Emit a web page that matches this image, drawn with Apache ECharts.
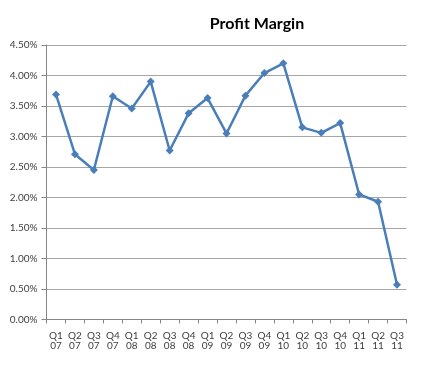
<!DOCTYPE html>
<html><head><meta charset="utf-8">
<script src="https://cdn.jsdelivr.net/npm/echarts@6/dist/echarts.min.js"></script>
<style>html,body{margin:0;padding:0;background:#fff}#c{width:437px;height:368px}</style>
</head><body><div id="c"></div>
<script>
const categories = ["Q1\n07","Q2\n07","Q3\n07","Q4\n07","Q1\n08","Q2\n08","Q3\n08","Q4\n08","Q1\n09","Q2\n09","Q3\n09","Q4\n09","Q1\n10","Q2\n10","Q3\n10","Q4\n10","Q1\n11","Q2\n11","Q3\n11"];
const profitMargin = [3.69,2.71,2.45,3.66,3.46,3.90,2.77,3.38,3.63,3.05,3.67,4.04,4.20,3.15,3.06,3.22,2.05,1.93,0.57];
const chart = echarts.init(document.getElementById('c'), null, {renderer:'canvas'});
chart.setOption({
  animation:false,
  backgroundColor:'#fff',
  title:{text:'Profit Margin', left:252, top:11, textAlign:'center',
    textStyle:{fontFamily:'Lato', fontWeight:'bold', fontSize:16, color:'#000'}},
  grid:{left:46.5, right:30.5, top:45, bottom:48.5},
  xAxis:{type:'category', data:categories, boundaryGap:true,
    axisLine:{lineStyle:{color:'#868686', width:1}},
    axisTick:{show:true, length:4, lineStyle:{color:'#868686'}},
    axisLabel:{interval:0, margin:11, fontFamily:'Lato', fontSize:10, color:'#404040', lineHeight:10.5}},
  yAxis:{type:'value', min:0, max:4.5, interval:0.5,
    axisLine:{show:true, lineStyle:{color:'#868686'}},
    axisTick:{show:true, length:5, lineStyle:{color:'#868686'}},
    splitLine:{lineStyle:{color:'#A6A6A6', width:1}},
    axisLabel:{margin:9, fontFamily:'Lato', fontSize:10, color:'#404040',
      formatter:v=>v.toFixed(2)+'%'}},
  series:[{type:'line', data:profitMargin, symbol:'diamond', symbolSize:8,
    lineStyle:{color:'#4A7EBB', width:2.5},
    itemStyle:{color:'#4A7EBB'}}]
});
</script></body></html>
